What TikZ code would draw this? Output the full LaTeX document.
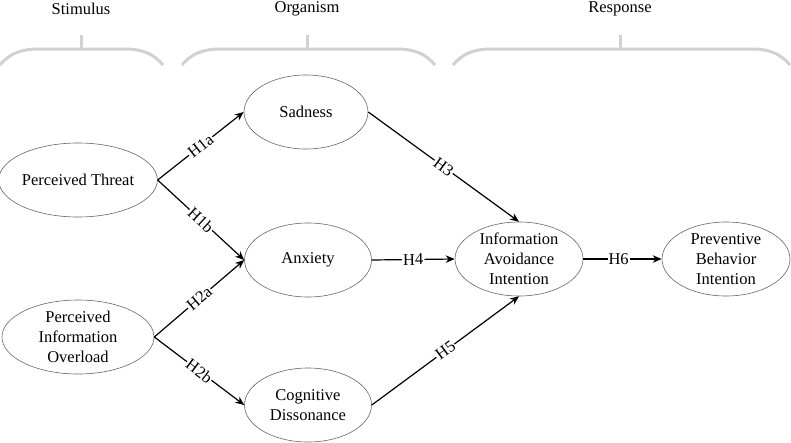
\documentclass[tikz,border=0pt]{standalone}
\usepackage{fontspec}
\setmainfont{Liberation Serif}
\usetikzlibrary{shapes.geometric,arrows.meta}
\begin{document}
\begin{tikzpicture}[x=1pt,y=-1pt,
  txt/.style={font=\fontsize{16.5}{20}\selectfont},
  construct/.style={ellipse, draw=black!60, line width=0.6pt, inner sep=0pt,
    minimum width=127pt, minimum height=74pt, align=center, txt},
  hpath/.style={line width=1.2pt, -{Stealth[length=9pt,width=7.5pt]}},
  hyp/.style={fill=white, inner sep=1pt, sloped, txt},
  brace/.style={draw=black!18, line width=3pt},
  stage/.style={txt, inner sep=0pt}
]
\useasboundingbox (0,0) rectangle (791,442);

% stage labels
\node[stage] (stim) at (81,9) {Stimulus};
\node[stage] (org) at (307,9) {Organism};
\node[stage] (resp) at (620,9) {Response};

% brackets
\draw[brace] (0,65) .. controls (10,53) and (22,49) .. (38,49) -- (125,49) .. controls (141,49) and (153,53) .. (163,65);
\draw[brace] (81,35) -- (81,49);
\draw[brace] (182,65) .. controls (192,53) and (204,49) .. (220,49) -- (397,49) .. controls (413,49) and (425,53) .. (435,65);
\draw[brace] (307,35) -- (307,49);
\draw[brace] (453,65) .. controls (463,53) and (475,49) .. (491,49) -- (752,49) .. controls (768,49) and (780,53) .. (790,65);
\draw[brace] (620,35) -- (620,49);

% constructs
\node[construct, minimum width=152pt] (pt) at (78,180) {Perceived Threat};
\node[construct, minimum width=152pt] (pio) at (78,337) {Perceived\\Information\\Overload};
\node[construct, minimum width=124pt] (sad) at (306,112) {Sadness};
\node[construct] (anx) at (308,260) {Anxiety};
\node[construct] (cd) at (308,405) {Cognitive\\Dissonance};
\node[construct, minimum width=128pt] (iai) at (519,259) {Information\\Avoidance\\Intention};
\node[construct, minimum width=128pt] (pbi) at (726,259) {Preventive\\Behavior\\Intention};

% paths
\draw[hpath] (pt.east) -- node[hyp] {H1a} (sad.west);
\draw[hpath] (pt.east) -- node[hyp] {H1b} (anx.west);
\draw[hpath] (pio.east) -- node[hyp] {H2a} (anx.west);
\draw[hpath] (pio.east) -- node[hyp] {H2b} (cd.west);
\draw[hpath] (sad.east) -- node[hyp] {H3} (iai.north);
\draw[hpath] (anx.east) -- node[hyp] {H4} (iai.west);
\draw[hpath] (cd.east) -- node[hyp] {H5} (iai.south);
\draw[hpath] (iai.east) -- node[hyp, pos=0.45] {H6} (pbi.west);
\end{tikzpicture}
\end{document}
